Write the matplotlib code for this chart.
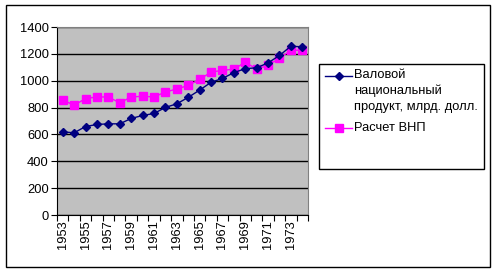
import matplotlib
matplotlib.use('Agg')
import matplotlib.pyplot as plt
from matplotlib.lines import Line2D
from matplotlib.patches import Rectangle

plt.rcParams['font.family'] = ['Liberation Sans', 'DejaVu Sans']
plt.rcParams['font.size'] = 9.3

years = list(range(1953, 1975))
gnp = [619, 612, 659, 674, 679, 679, 719, 741, 756, 801, 828, 876,
       930, 988, 1017, 1060, 1090, 1096, 1133, 1188, 1257, 1252]
gnp_calc = [857, 817, 867, 879, 879, 835, 879, 884, 879, 916, 938, 965,
            1010, 1064, 1077, 1086, 1138, 1086, 1114, 1168, 1227, 1227]
label_gnp = 'Валовой\nнациональный\nпродукт, млрд. долл.'
label_calc = 'Расчет ВНП'

fig = plt.figure(figsize=(4.97, 2.72), dpi=100)
ax = fig.add_axes([57 / 497, 57 / 272, 251 / 497, 188 / 272])
ax.set_facecolor('#C0C0C0')

x = list(range(len(years)))
ax.plot(x, gnp, color='#000080', lw=1, marker='D', ms=4, zorder=4)
ax.plot(x, gnp_calc, color='#FF00FF', lw=1, marker='s', ms=5.5, zorder=3)

ax.set_xlim(-0.5, len(years) - 0.5)
ax.set_ylim(0, 1400)
ax.set_yticks(range(0, 1401, 200))
ax.yaxis.grid(True, color='black', lw=1)
ax.set_axisbelow(True)

# category boundaries get tick marks, labels sit at centres
ax.set_xticks([i - 0.5 for i in range(len(years) + 1)])
ax.set_xticklabels([])
ax.set_xticks(x[::2], minor=True)
ax.set_xticklabels([str(y) for y in years[::2]], minor=True, rotation=90)
ax.tick_params(axis='x', which='major', length=4, direction='out', color='black')
ax.tick_params(axis='x', which='minor', length=0, pad=4)
ax.tick_params(axis='y', length=4, direction='out', pad=2)

for s in ['top', 'right']:
    ax.spines[s].set_color('#808080')
for s in ['left', 'bottom']:
    ax.spines[s].set_color('black')

# outer chart border
fig.patches.append(Rectangle((6 / 497, 5 / 272), 484 / 497, 262 / 272,
                             transform=fig.transFigure, fill=False,
                             edgecolor='black', lw=1))

# legend box, drawn by hand so the first handle sits on the first text line
fig.patches.append(Rectangle((319 / 497, 1 - 169 / 272), 165 / 497, 105 / 272,
                             transform=fig.transFigure, fill=False,
                             edgecolor='black', lw=1))
y1 = 1 - 76 / 272
y2 = 1 - 128 / 272
hx = [325 / 497, 338.5 / 497, 352 / 497]
fig.lines.append(Line2D(hx, [y1] * 3, transform=fig.transFigure,
                        color='#000080', lw=1, marker='D', ms=4, markevery=[1]))
fig.lines.append(Line2D(hx, [y2] * 3, transform=fig.transFigure,
                        color='#FF00FF', lw=1, marker='s', ms=5.5, markevery=[1]))
fig.text(354 / 497, 1 - 69 / 272, label_gnp, va='top', ha='left', linespacing=1.42)
fig.text(354 / 497, y2, label_calc, va='center', ha='left')

fig.savefig('out.png', dpi=100)
